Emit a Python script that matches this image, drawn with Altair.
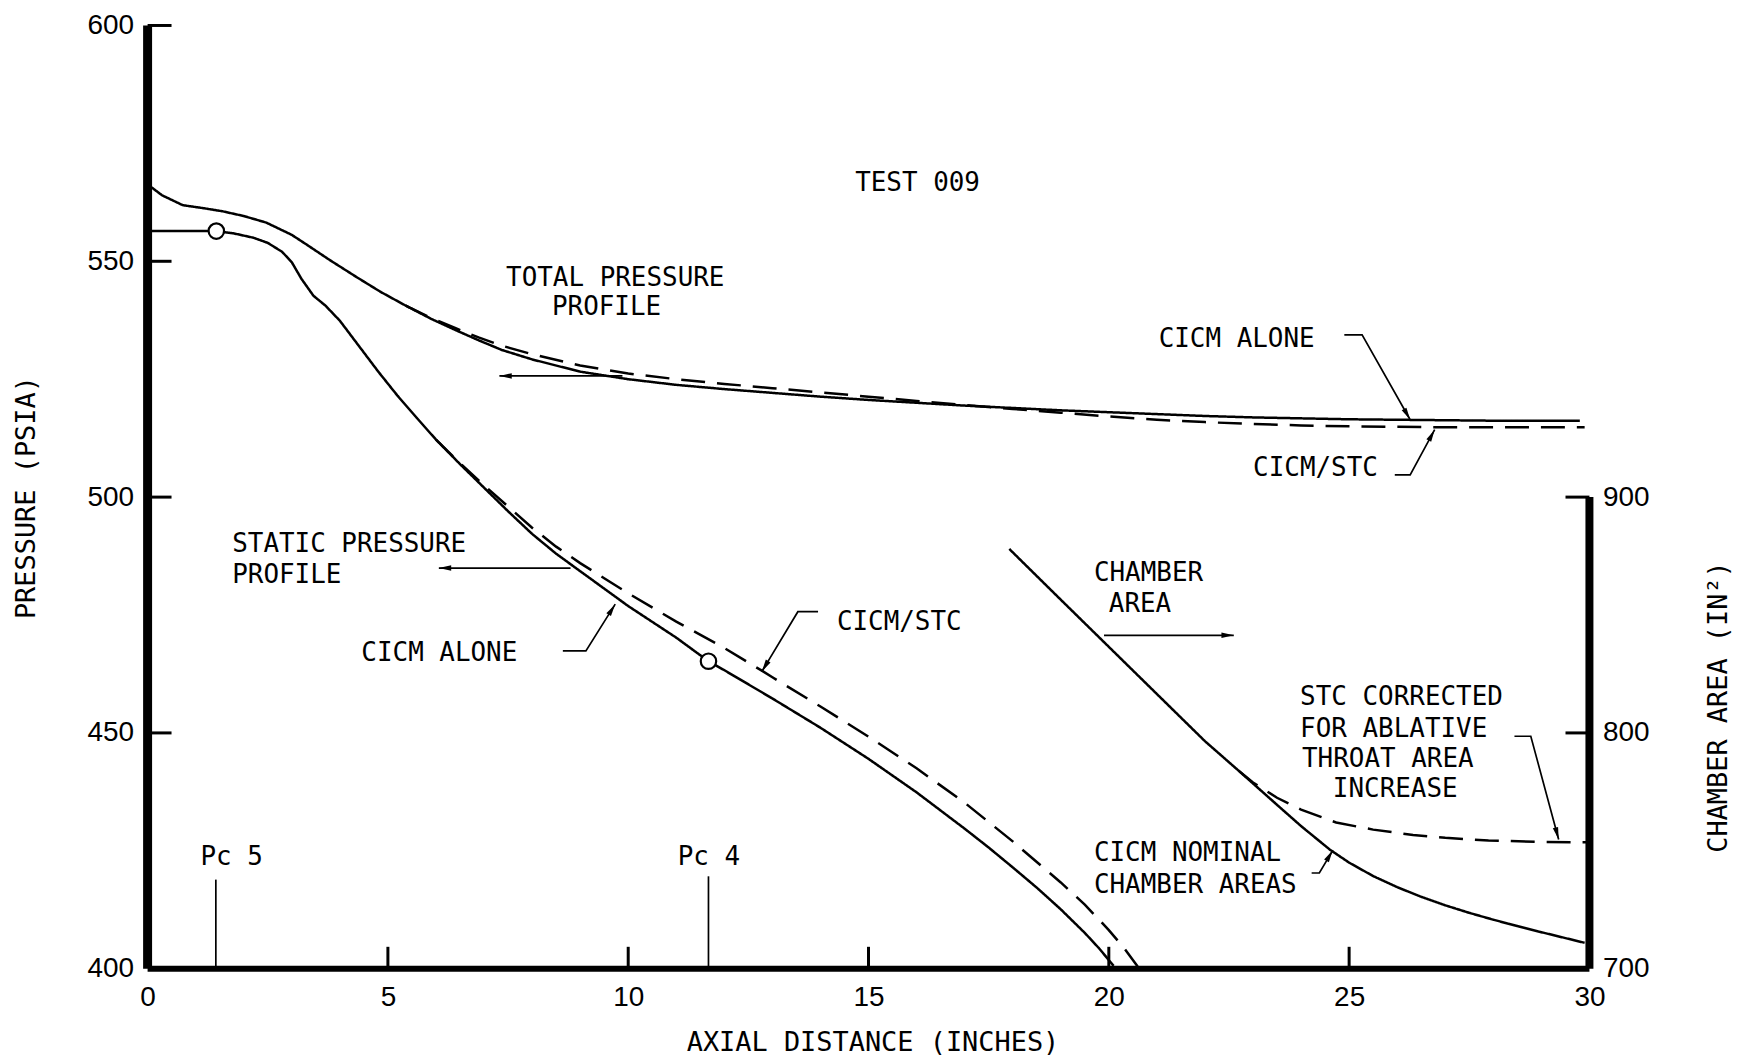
import math
import altair as alt
import pandas as pd

# ---------------- data ----------------
# Total pressure profile (psia) vs axial distance (in)
total_alone_x = [0, 0.3, 0.73, 1.2, 1.56, 2.0, 2.47, 3.0, 3.3, 3.8, 4.34, 4.85, 5.37, 5.9, 6.41,
                 6.9, 7.37, 8, 9, 10, 11, 12, 13, 14, 15, 16, 17, 18, 19, 20, 21, 22, 23, 24, 25,
                 26, 27, 28, 29, 29.8]
total_alone_p = [566.3, 564.0, 561.9, 561.2, 560.6, 559.6, 558.2, 555.6, 553.6, 550.2, 546.7, 543.5,
                 540.6, 537.8, 535.4, 533.2, 531.2, 529.2, 526.6, 525.0, 523.8, 522.9, 522.1, 521.3,
                 520.6, 520.0, 519.4, 518.9, 518.4, 518.0, 517.6, 517.2, 516.9, 516.7, 516.5, 516.4,
                 516.3, 516.2, 516.2, 516.2]
total_stc_x = [5.37, 5.9, 6.41, 6.9, 7.37, 8, 9, 10, 11, 12, 13, 14, 15, 16, 17, 18, 19, 20, 21, 22,
               23, 24, 25, 26, 27, 28, 29, 29.9]
total_stc_p = [540.6, 538.0, 535.8, 533.8, 532.1, 530.3, 527.9, 526.2, 525.0, 524.0, 523.1, 522.2,
               521.3, 520.4, 519.5, 518.7, 517.9, 517.1, 516.4, 515.9, 515.5, 515.2, 515.0, 514.9,
               514.8, 514.8, 514.8, 514.8]

# Static pressure profile (psia)
static_alone_x = [0, 1.43, 1.8, 2.2, 2.5, 2.8, 3.0, 3.2, 3.45, 3.7, 4.0, 4.4, 4.8, 5.2, 5.6, 6.0,
                  6.5, 7.0, 7.5, 8.0, 8.5, 9.0, 9.5, 10.0, 11.0, 11.67, 12.0, 13.0, 14.0, 15.0,
                  16.0, 17.0, 17.5, 18.0, 18.5, 19.0, 19.5, 19.8, 20.1]
static_alone_p = [556.4, 556.4, 555.9, 555.0, 553.9, 552.0, 549.8, 546.3, 542.7, 540.6, 537.4,
                  532.0, 526.6, 521.5, 516.8, 512.2, 507.0, 502.0, 497.0, 492.2, 488.0, 484.3,
                  480.6, 476.9, 470.2, 465.2, 463.3, 457.3, 451.1, 444.5, 437.4, 429.7, 425.7,
                  421.5, 417.2, 412.6, 407.6, 404.3, 400.6]
static_stc_x = [6.0, 6.5, 7.0, 7.5, 8.0, 8.5, 9.0, 9.5, 10, 11, 12, 12.78, 13, 14, 15, 16, 17, 18,
                19, 19.5, 20, 20.3, 20.6]
static_stc_p = [512.2, 507.2, 502.5, 498.0, 493.5, 489.5, 486.0, 482.8, 479.6, 473.6, 468.0, 463.2,
                461.8, 455.6, 449.2, 442.5, 435.2, 427.0, 418.3, 413.6, 408.2, 404.6, 400.5]

# Chamber area (in^2)
chamber_nom_x = [17.93, 19, 20, 21, 22, 22.7, 23.5, 24.0, 24.6, 25.0, 25.5, 26.0, 26.5, 27.0, 27.5,
                 28.0, 28.5, 29.0, 29.5, 29.9]
chamber_nom_a = [878, 856.5, 836.5, 816.5, 796.5, 784, 769.5, 760.5, 750.5, 745.0, 739.3, 734.6,
                 730.5, 726.9, 723.7, 720.8, 718.1, 715.5, 713.0, 711.0]
chamber_stc_x = [22.7, 23.0, 23.5, 24.0, 24.73, 25.5, 26.33, 27.0, 27.9, 29.0, 29.96]
chamber_stc_a = [784, 779, 772.5, 767.5, 762.0, 759.0, 756.7, 755.5, 754.4, 753.8, 753.6]

# Measurement stations (circles) and Pc tap marks
station_x = [1.43, 11.67]
station_p = [556.4, 465.2]
pc_x = [1.42, 11.67]
pc_top = [418.9, 419.6]

# Axis ticks
x_ticks = [0, 5, 10, 15, 20, 25, 30]
p_ticks = [400, 450, 500, 550, 600]
a_ticks = [700, 800, 900]

# Annotation texts (pressure coordinates)
center_text = ["TEST 009", "TOTAL PRESSURE", "PROFILE", "CICM ALONE", "CICM/STC", "CICM ALONE",
               "CICM/STC", "Pc 5", "Pc 4", "INCREASE"]
center_x = [16.02, 9.73, 9.55, 22.66, 24.3, 6.07, 15.64, 1.75, 11.68, 25.96]
center_p = [566.7, 546.5, 540.4, 533.5, 506.1, 466.9, 473.6, 423.7, 423.7, 438.1]
left_text = ["STATIC PRESSURE", "PROFILE", "CHAMBER", "AREA", "STC CORRECTED", "FOR ABLATIVE",
             "THROAT AREA", "CICM NOMINAL", "CHAMBER AREAS"]
left_x = [1.76, 1.76, 19.69, 20.0, 23.98, 23.98, 24.02, 19.69, 19.69]
left_p = [490.1, 483.4, 483.8, 477.3, 457.6, 450.9, 444.5, 424.5, 417.8]

# Arrows / leader lines (last point carries the arrow head)
leader_total = [(9.88, 525.7), (7.32, 525.7)]
leader_static = [(8.80, 484.95), (6.06, 484.95)]
leader_chamber = [(19.9, 470.7), (22.6, 470.7)]
leader_top_alone = [(24.9, 534.4), (25.27, 534.4), (26.27, 516.4)]
leader_top_stc = [(25.95, 504.7), (26.27, 504.7), (26.78, 514.3)]
leader_low_alone = [(8.64, 467.4), (9.12, 467.4), (9.73, 477.3)]
leader_low_stc = [(13.95, 475.7), (13.53, 475.7), (12.78, 463.0)]
leader_stc_corr = [(28.44, 449.3), (28.78, 449.3), (29.36, 427.4)]
leader_nominal = [(24.22, 420.3), (24.38, 420.3), (24.66, 425.1)]

# ---------------- layout ----------------
W, H = 1446, 946
MONO = "DejaVu Sans Mono"
NUM = "Liberation Sans"

XS = alt.Scale(domain=[0, 30], nice=False, zero=False)
PS = alt.Scale(domain=[400, 600], nice=False, zero=False)
AS = alt.Scale(domain=[700, 1100], nice=False, zero=False)
DASH = alt.Scale(domain=["solid", "dashed"], range=[[1, 0], [24, 12]])


def series(xs, ys, name, style, col):
    return pd.DataFrame({"x": xs, col: ys, "series": name, "style": style})


press_df = pd.concat([
    series(total_alone_x, total_alone_p, "total_alone", "solid", "p"),
    series(total_stc_x, total_stc_p, "total_stc", "dashed", "p"),
    series(static_alone_x, static_alone_p, "static_alone", "solid", "p"),
    series(static_stc_x, static_stc_p, "static_stc", "dashed", "p"),
], ignore_index=True)
area_df = pd.concat([
    series(chamber_nom_x, chamber_nom_a, "chamber_nom", "solid", "a"),
    series(chamber_stc_x, chamber_stc_a, "chamber_stc", "dashed", "a"),
], ignore_index=True)

leaders = {
    "total": leader_total, "static": leader_static, "chamber": leader_chamber,
    "top_alone": leader_top_alone, "top_stc": leader_top_stc, "low_alone": leader_low_alone,
    "low_stc": leader_low_stc, "stc_corr": leader_stc_corr, "nominal": leader_nominal,
}
lead_rows, head_rows = [], []
for name, pts in leaders.items():
    for i, (lx, lp) in enumerate(pts):
        lead_rows.append({"id": name, "seq": i, "x": lx, "p": lp})
    (x1, p1), (x2, p2) = pts[-2], pts[-1]
    dx = (x2 - x1) * W / 30.0
    dy = -(p2 - p1) * H / 200.0
    head_rows.append({"x": x2, "p": p2, "ang": math.degrees(math.atan2(dx, -dy)) % 360})
for i, (px_, pt) in enumerate(zip(pc_x, pc_top)):
    lead_rows.append({"id": f"pc{i}", "seq": 0, "x": px_, "p": 400})
    lead_rows.append({"id": f"pc{i}", "seq": 1, "x": px_, "p": pt})
lead_df = pd.DataFrame(lead_rows)
head_df = pd.DataFrame(head_rows)

common_axis = dict(ticks=False, domain=False, grid=False, labelFont=NUM, labelFontSize=28,
                   labelColor="black", titleFont=MONO, titleFontSize=27,
                   titleFontWeight="normal", titleColor="black", format="d")
# one identical x-axis definition is shared by every layer so they merge cleanly
x_axis = alt.Axis(values=x_ticks, title="AXIAL DISTANCE (INCHES)", orient="bottom",
                  labelPadding=15, labelFlush=False, titleX=727, titleY=74,
                  titleBaseline="middle", titleAlign="center", **common_axis)
y_axis = alt.Axis(values=p_ticks, title="PRESSURE (PSIA)", orient="left", labelPadding=14,
                  titleX=-121, titleY=473, titleAngle=270, titleBaseline="middle",
                  titleAlign="center", **common_axis)
a_axis = alt.Axis(values=a_ticks, title="CHAMBER AREA (IN²)", orient="right", labelPadding=13,
                  titleX=129, titleY=683, titleAngle=270, titleBaseline="middle",
                  titleAlign="center", **common_axis)

X = lambda f: alt.X(f, scale=XS, axis=x_axis)
P = lambda f: alt.Y(f, scale=PS, axis=None)
A = lambda f: alt.Y(f, scale=AS, axis=None)

press_lines = alt.Chart(press_df).mark_line(color="black", strokeWidth=2.5).encode(
    x=X("x:Q"),
    y=alt.Y("p:Q", scale=PS, axis=y_axis),
    detail="series:N",
    strokeDash=alt.StrokeDash("style:N", scale=DASH, legend=None),
)
area_lines = alt.Chart(area_df).mark_line(color="black", strokeWidth=2.5).encode(
    x=X("x:Q"),
    y=alt.Y("a:Q", scale=AS, axis=a_axis),
    detail="series:N",
    strokeDash=alt.StrokeDash("style:N", scale=DASH, legend=None),
)

frame_df = pd.DataFrame({"x": [0, 0], "x2": [0, 30], "p": [400, 400], "p2": [600, 400],
                         "w": [9, 6]})
frame = alt.Chart(frame_df).mark_rule(color="black").encode(
    x=X("x:Q"), x2="x2:Q", y=P("p:Q"), y2="p2:Q",
    strokeWidth=alt.StrokeWidth("w:Q", scale=None))

left_ticks = alt.Chart(pd.DataFrame({"p": p_ticks[1:]})).mark_rule(
    color="black", strokeWidth=3).encode(y=P("p:Q"), x=alt.value(0), x2=alt.value(24))
bottom_ticks = alt.Chart(pd.DataFrame({"x": x_ticks[1:-1]})).mark_rule(
    color="black", strokeWidth=3).encode(x=X("x:Q"), y=alt.value(H), y2=alt.value(H - 22))

right_frame = alt.Chart(pd.DataFrame({"x": [30], "a": [700], "a2": [900]})).mark_rule(
    color="black", strokeWidth=8).encode(x=X("x:Q"), y=A("a:Q"), y2="a2:Q")
right_ticks = alt.Chart(pd.DataFrame({"a": a_ticks[1:]})).mark_rule(
    color="black", strokeWidth=3).encode(y=A("a:Q"), x=alt.value(W), x2=alt.value(W - 24))

lead_lines = alt.Chart(lead_df).mark_line(color="black", strokeWidth=1.7).encode(
    x=X("x:Q"), y=P("p:Q"), detail="id:N", order="seq:Q")
heads = alt.Chart(head_df).mark_point(
    shape="M0,0L0.42,1.9L-0.42,1.9Z", filled=True, color="black", size=170, opacity=1
).encode(x=X("x:Q"), y=P("p:Q"), angle=alt.Angle("ang:Q", scale=None))

stations = alt.Chart(pd.DataFrame({"x": station_x, "p": station_p})).mark_point(
    shape="circle", filled=True, fill="white", stroke="black", strokeWidth=2.2, size=240,
    opacity=1).encode(x=X("x:Q"), y=P("p:Q"))

txt_c = alt.Chart(pd.DataFrame({"t": center_text, "x": center_x, "p": center_p})).mark_text(
    font=MONO, fontSize=26, color="black", align="center", baseline="middle"
).encode(x=X("x:Q"), y=P("p:Q"), text="t:N")
txt_l = alt.Chart(pd.DataFrame({"t": left_text, "x": left_x, "p": left_p})).mark_text(
    font=MONO, fontSize=26, color="black", align="left", baseline="middle"
).encode(x=X("x:Q"), y=P("p:Q"), text="t:N")

chart = alt.layer(
    press_lines, area_lines, frame, left_ticks, bottom_ticks, right_frame, right_ticks,
    lead_lines, heads, stations, txt_c, txt_l
).resolve_scale(y="independent").properties(
    width=W, height=H,
    padding={"left": 140, "top": 16, "right": 150, "bottom": 90},
    autosize=alt.AutoSizeParams(type="none"),
    background="white",
).configure_view(stroke=None)

chart.save("out.html", embed_options={"renderer": "svg", "actions": False})
